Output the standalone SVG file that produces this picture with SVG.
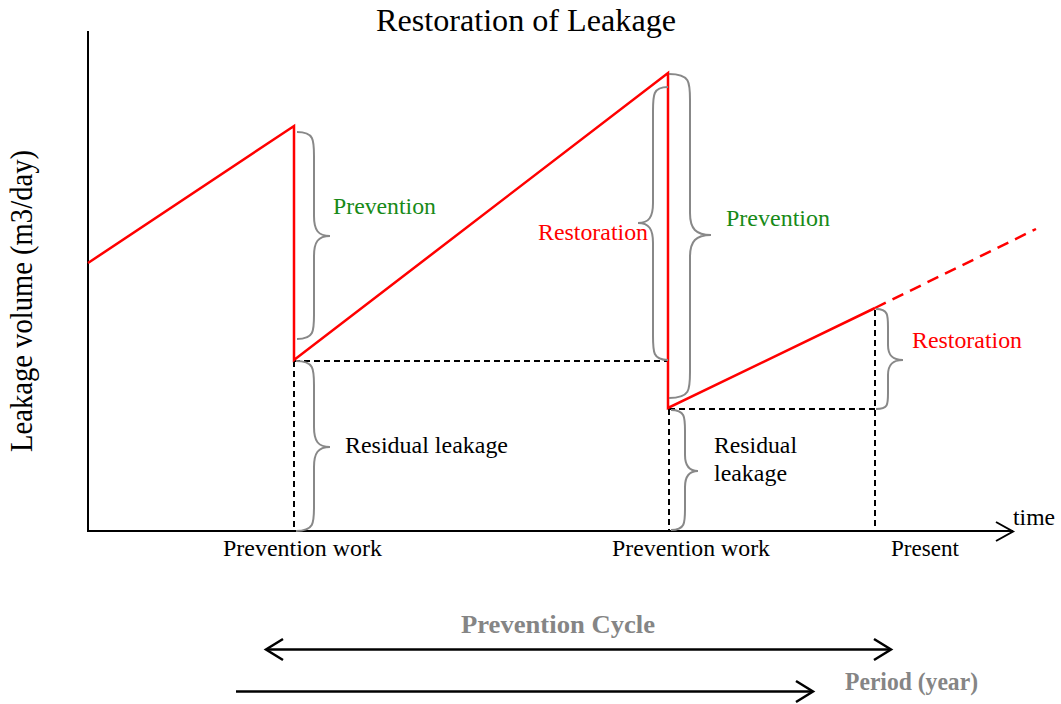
<svg xmlns="http://www.w3.org/2000/svg" width="1061" height="704" viewBox="0 0 1061 704">
  <style>
    text { font-family: "Liberation Serif", "Times New Roman", serif; }
    .title { font-size: 31px; fill: #000; }
    .lbl { font-size: 23.5px; fill: #000; }
    .green { font-size: 23.5px; fill: #178a17; }
    .red { font-size: 23.5px; fill: #ff0000; }
    .grey { font-size: 26px; font-weight: bold; fill: #858585; }
    .axis { stroke: #000; stroke-width: 2; fill: none; }
    .arrow { stroke: #000; stroke-width: 2.5; fill: none; }
    .curve { stroke: #ff0000; stroke-width: 2.5; fill: none; stroke-linejoin: miter; }
    .guide { stroke: #000; stroke-width: 2; stroke-dasharray: 6 4; fill: none; }
    .brace { stroke: #888; stroke-width: 2; fill: none; }
  </style>

  <!-- title and axis labels -->
  <text class="title" x="376" y="31" textLength="300" lengthAdjust="spacingAndGlyphs">Restoration of Leakage</text>
  <text class="lbl" transform="translate(32,452) scale(1.1,1) rotate(-90)" style="font-size:28.5px" textLength="302" lengthAdjust="spacingAndGlyphs">Leakage volume (m3/day)</text>

  <!-- axes -->
  <g id="axes">
    <path class="axis" d="M88,31 V531 H1013"/>
    <path class="axis" d="M996,522 L1013,531.5 L996,541"/>
    <text class="lbl" x="1013" y="525" textLength="42" lengthAdjust="spacingAndGlyphs">time</text>
    <text class="lbl" x="223" y="556" textLength="159" lengthAdjust="spacingAndGlyphs">Prevention work</text>
    <text class="lbl" x="612" y="556" textLength="158" lengthAdjust="spacingAndGlyphs">Prevention work</text>
    <text class="lbl" x="891" y="556" textLength="68" lengthAdjust="spacingAndGlyphs">Present</text>
  </g>

  <!-- guide lines and leakage curve -->
  <g id="connectors">
    <path class="guide" d="M294,361 H668"/>
    <path class="guide" d="M294,361 V531"/>
    <path class="guide" d="M669,409 H875"/>
    <path class="guide" d="M669,409 V531"/>
    <path class="guide" d="M875,310 V531"/>
    <path class="curve" d="M88,263 L294,126 L294,360 L668,73 L668,408 L875,308"/>
    <path class="curve" d="M875,308 L1036,229" stroke-dasharray="12 7.5"/>
  </g>

  <!-- braces -->
  <g id="brace-prevention-1">
    <path class="brace" d="M297,132 C314,132 314,140 314,156 L314,216 C314,230 318,236 330,236 C318,236 314,242 314,256 L314,315 C314,331 314,339 297,339"/>
    <text class="green" x="333" y="214" textLength="103" lengthAdjust="spacingAndGlyphs">Prevention</text>
  </g>
  <g id="brace-residual-1">
    <path class="brace" d="M296,361 C314,361 314,369 314,385 L314,427 C314,441 318,447 330,447 C318,447 314,453 314,467 L314,507 C314,523 314,531 296,531"/>
    <text class="lbl" x="345" y="453" textLength="163" lengthAdjust="spacingAndGlyphs">Residual leakage</text>
  </g>
  <g id="brace-restoration-1">
    <path class="brace" d="M668,87 C653,87 653,95 653,111 L653,203 C653,217 649,223 638,223 C649,223 653,229 653,243 L653,336 C653,352 653,360 668,360"/>
    <text class="red" x="538" y="240" textLength="110" lengthAdjust="spacingAndGlyphs">Restoration</text>
  </g>
  <g id="brace-prevention-2">
    <path class="brace" d="M669,74 C690,74 690,82 690,100 L690,213 C690,229 696,235 711,235 C696,235 690,241 690,257 L690,372 C690,390 690,398 669,398"/>
    <text class="green" x="726" y="226" textLength="104" lengthAdjust="spacingAndGlyphs">Prevention</text>
  </g>
  <g id="brace-residual-2">
    <path class="brace" d="M671,410 C685,410 685,417 685,431 L685,455 C685,466 689,471 698,471 C689,471 685,476 685,487 L685,509 C685,523 685,530 671,530"/>
    <text class="lbl" x="714" y="453" textLength="83" lengthAdjust="spacingAndGlyphs">Residual</text>
    <text class="lbl" x="714" y="481" textLength="73" lengthAdjust="spacingAndGlyphs">leakage</text>
  </g>
  <g id="brace-restoration-2">
    <path class="brace" d="M876,309 C888,309 888,315 888,327 L888,345 C888,355 892,360 903,360 C892,360 888,365 888,375 L888,393 C888,405 888,409 876,409"/>
    <text class="red" x="912" y="348" textLength="110" lengthAdjust="spacingAndGlyphs">Restoration</text>
  </g>

  <!-- cycle and period arrows -->
  <g id="prevention-cycle">
    <text class="grey" x="461" y="633" textLength="194" lengthAdjust="spacingAndGlyphs">Prevention Cycle</text>
    <path class="arrow" d="M266,649.5 H891"/>
    <path class="arrow" d="M283,639 L266,649.5 L283,660"/>
    <path class="arrow" d="M874,639 L891,649.5 L874,660"/>
  </g>
  <g id="period">
    <path class="arrow" d="M236,691.5 H812"/>
    <path class="arrow" d="M796,681 L813,691.5 L796,702"/>
    <text class="grey" x="845" y="690" textLength="133" lengthAdjust="spacingAndGlyphs">Period (year)</text>
  </g>
</svg>
